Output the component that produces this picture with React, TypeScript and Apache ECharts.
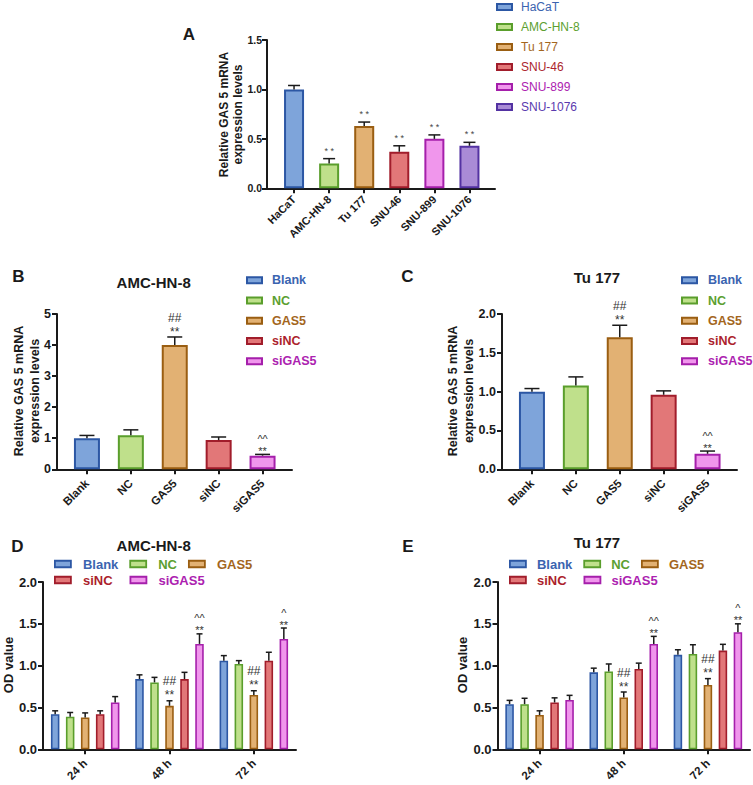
import React, { useEffect, useRef } from 'react';
import * as echarts from 'echarts';

// ---------- data ----------
const A_CATEGORIES = ['HaCaT', 'AMC-HN-8', 'Tu 177', 'SNU-46', 'SNU-899', 'SNU-1076'];
const A_VALUES = [1.0, 0.25, 0.63, 0.37, 0.5, 0.43];
const A_ERRORS = [0.04, 0.05, 0.04, 0.06, 0.04, 0.035];
const A_STARS = ['', '* *', '* *', '* *', '* *', '* *'];

const GROUPS = ['Blank', 'NC', 'GAS5', 'siNC', 'siGAS5'];
const B_VALUES = [1.0, 1.1, 4.0, 0.94, 0.44];
const B_ERRORS = [0.09, 0.17, 0.26, 0.1, 0.04];
const C_VALUES = [1.0, 1.08, 1.7, 0.96, 0.2];
const C_ERRORS = [0.04, 0.11, 0.155, 0.05, 0.035];
const BC_STARS = ['', '', '**', '', '**'];
const BC_TOPS = ['', '', '##', '', '^^'];

const TIMES = ['24 h', '48 h', '72 h'];
const D_BLANK = [0.42, 0.84, 1.06];
const D_NC = [0.39, 0.8, 1.02];
const D_GAS5 = [0.38, 0.52, 0.65];
const D_SINC = [0.42, 0.84, 1.06];
const D_SIGAS5 = [0.56, 1.26, 1.32];
const D_BLANK_ERR = [0.04, 0.05, 0.06];
const D_NC_ERR = [0.05, 0.06, 0.04];
const D_GAS5_ERR = [0.055, 0.06, 0.05];
const D_SINC_ERR = [0.04, 0.08, 0.1];
const D_SIGAS5_ERR = [0.07, 0.12, 0.13];

const E_BLANK = [0.54, 0.92, 1.13];
const E_NC = [0.54, 0.93, 1.14];
const E_GAS5 = [0.41, 0.62, 0.77];
const E_SINC = [0.56, 0.96, 1.18];
const E_SIGAS5 = [0.59, 1.26, 1.4];
const E_BLANK_ERR = [0.045, 0.05, 0.06];
const E_NC_ERR = [0.07, 0.09, 0.11];
const E_GAS5_ERR = [0.05, 0.065, 0.075];
const E_SINC_ERR = [0.055, 0.07, 0.075];
const E_SIGAS5_ERR = [0.055, 0.09, 0.1];

const DE_STARS = [['', '', ''], ['', '', ''], ['', '**', '**'], ['', '', ''], ['', '**', '**']];
const DE_TOPS = [['', '', ''], ['', '', ''], ['', '##', '##'], ['', '', ''], ['', '^^', '^']];

// ---------- styles ----------
const A_FILL = ['#7EA4DA', '#BFE08B', '#E2B173', '#E27778', '#F096EC', '#A98BD6'];
const A_BORDER = ['#2C57A4', '#5A9E2C', '#9A5E12', '#A11D2B', '#A51FAB', '#5332A2'];
const A_TEXT = ['#3B64B0', '#5CA030', '#A3661D', '#AC1F2D', '#AC22B0', '#5A3AAE'];
const G_FILL = A_FILL.slice(0, 5);
const G_BORDER = A_BORDER.slice(0, 5);
const G_TEXT = A_TEXT.slice(0, 5);

const INK = '#1a1a1a';
const FONT = 'Liberation Sans';

function txt(x: number, y: number, text: string, fontSize: number, fill: string, lineHeight?: number) {
  return {
    type: 'text',
    x,
    y,
    style: {
      text,
      align: 'center',
      verticalAlign: 'middle',
      fontSize,
      fontFamily: FONT,
      fill,
      lineHeight: lineHeight || fontSize * 1.2,
    },
  };
}

function makeErr(offset: number, capW: number, stars: string[], tops: string[] | null, fontSize: number, lw: number, starFill: string) {
  return (params: any, api: any) => {
    const i = params.dataIndex;
    const c = api.value(0);
    const v = api.value(1);
    const e = api.value(2);
    const p0 = api.coord([c, v]);
    const p1 = api.coord([c, v + e]);
    const x = p0[0] + offset;
    const yb = p0[1];
    const yt = p1[1];
    const children: any[] = [
      { type: 'line', shape: { x1: x, y1: yb, x2: x, y2: yt }, style: { stroke: INK, lineWidth: lw } },
      { type: 'line', shape: { x1: x - capW / 2, y1: yt, x2: x + capW / 2, y2: yt }, style: { stroke: INK, lineWidth: lw } },
    ];
    const s = stars[i] || '';
    const t = tops ? tops[i] || '' : '';
    const caret = t.indexOf('^') >= 0;
    if (s && !t) {
      children.push(txt(x, yt - 10 + 0.23 * fontSize, s, fontSize, starFill));
    } else if (s && t) {
      const fs = caret ? fontSize - 1 : fontSize;
      const starMid = yt - (caret ? 6 : 8.2) + 0.23 * fs;
      const lh = caret ? fs + 1 : 14;
      children.push(txt(x, starMid - lh / 2, t + '\n' + s, fs, starFill, lh));
    }
    return { type: 'group', children };
  };
}

function catAxis(gridIndex: number, data: string[], fontSize: number, showLine: boolean, margin: number) {
  return {
    type: 'category',
    gridIndex,
    data,
    axisLine: { show: showLine, onZero: false, lineStyle: { color: INK, width: 2 } },
    axisTick: { show: true, alignWithLabel: true, interval: 0, length: 5, lineStyle: { color: INK, width: 2 } },
    axisLabel: { interval: 0, rotate: 45, margin, color: INK, fontWeight: 'bold', fontSize, fontFamily: FONT },
    splitLine: { show: false },
  };
}

function valAxis(gridIndex: number, max: number, interval: number, digits: number, fontSize: number, offset: number, margin: number) {
  return {
    type: 'value',
    gridIndex,
    min: 0,
    max,
    interval,
    offset,
    axisLine: { show: true, lineStyle: { color: INK, width: 2 } },
    axisTick: { show: true, length: 5, lineStyle: { color: INK, width: 2 } },
    axisLabel: {
      margin,
      color: INK,
      fontWeight: 'bold',
      fontSize,
      fontFamily: FONT,
      formatter: (v: number) => v.toFixed(digits),
    },
    splitLine: { show: false },
  };
}

function frameX(gridIndex: number) {
  return {
    type: 'value',
    gridIndex,
    min: 0,
    max: 1,
    axisLine: { show: true, onZero: false, lineStyle: { color: INK, width: 2 } },
    axisTick: { show: false },
    axisLabel: { show: false },
    splitLine: { show: false },
  };
}
function frameY(gridIndex: number) {
  return { type: 'value', gridIndex, min: 0, max: 1, show: false };
}

function legend(left: number, top: number, names: string[], colors: string[], opts: any) {
  return {
    orient: opts.orient || 'vertical',
    left,
    top,
    padding: 0,
    icon: 'rect',
    selectedMode: false,
    itemWidth: opts.iw,
    itemHeight: opts.ih,
    itemGap: opts.gap,
    itemStyle: { borderWidth: opts.bw },
    textStyle: {
      fontSize: opts.fs,
      fontWeight: opts.fw,
      fontFamily: FONT,
      lineHeight: opts.lh,
      padding: [0, 0, 0, opts.pad],
    },
    data: names.map((n, i) => ({ name: n, textStyle: { color: colors[i] } })),
  };
}

function gtext(x: number, y: number, text: string, fontSize: number, rotation = 0, lineHeight?: number) {
  return {
    type: 'text',
    x,
    y,
    rotation,
    style: {
      text,
      align: 'center',
      verticalAlign: 'middle',
      fontSize,
      fontWeight: 'bold',
      fontFamily: FONT,
      fill: INK,
      lineHeight: lineHeight || fontSize * 1.2,
    },
  };
}

function buildOption() {
  const grids = [
    { left: 276.5, top: 40, width: 210.5, height: 148.3 }, // 0 A
    { left: 267, top: 40, width: 228, height: 148.3 }, // 1 A frame
    { left: 65, top: 314, width: 219.5, height: 155.3 }, // 2 B
    { left: 57, top: 314, width: 235, height: 155.3 }, // 3 B frame
    { left: 510, top: 314, width: 219.5, height: 155.3 }, // 4 C
    { left: 502, top: 314, width: 235, height: 155.3 }, // 5 C frame
    { left: 43, top: 582, width: 253, height: 167.3 }, // 6 D
    { left: 497.5, top: 582, width: 252.5, height: 167.3 }, // 7 E
  ];

  const xAxis = [
    catAxis(0, A_CATEGORIES, 11, false, 9),
    frameX(1),
    catAxis(2, GROUPS, 11.5, false, 12),
    frameX(3),
    catAxis(4, GROUPS, 11.5, false, 12),
    frameX(5),
    catAxis(6, TIMES, 11.5, true, 12),
    catAxis(7, TIMES, 11.5, true, 12),
  ];
  const yAxis = [
    valAxis(0, 1.5, 0.5, 1, 10.5, 9.5, 5),
    frameY(1),
    valAxis(2, 5, 1, 0, 12.5, 8, 6),
    frameY(3),
    valAxis(4, 2, 0.5, 1, 12.5, 8, 6),
    frameY(5),
    valAxis(6, 2, 0.5, 1, 13, 0, 6),
    valAxis(7, 2, 0.5, 1, 13, 0, 6),
  ];

  const series: any[] = [];

  // Panel A
  A_CATEGORIES.forEach((name, i) => {
    series.push({
      type: 'bar',
      name,
      xAxisIndex: 0,
      yAxisIndex: 0,
      data: A_VALUES.map((v, j) => (j === i ? v : '-')),
      barWidth: 20,
      barGap: '-100%',
      itemStyle: { color: A_FILL[i], borderColor: A_BORDER[i], borderWidth: 2 },
    });
  });
  series.push({
    type: 'custom',
    xAxisIndex: 0,
    yAxisIndex: 0,
    z: 10,
    silent: true,
    encode: { x: 0, y: 1 },
    data: A_VALUES.map((v, i) => [i, v, A_ERRORS[i]]),
    renderItem: makeErr(0, 12, A_STARS, null, 9, 1.5, '#444'),
  });

  // Panels B and C
  const bc: [number, number[], number[]][] = [
    [2, B_VALUES, B_ERRORS],
    [4, C_VALUES, C_ERRORS],
  ];
  bc.forEach(([ax, vals, errs]) => {
    GROUPS.forEach((name, i) => {
      series.push({
        type: 'bar',
        name,
        xAxisIndex: ax,
        yAxisIndex: ax,
        data: vals.map((v, j) => (j === i ? v : '-')),
        barWidth: 26,
        barGap: '-100%',
        itemStyle: { color: G_FILL[i], borderColor: G_BORDER[i], borderWidth: 2 },
      });
    });
    series.push({
      type: 'custom',
      xAxisIndex: ax,
      yAxisIndex: ax,
      z: 10,
      silent: true,
      encode: { x: 0, y: 1 },
      data: vals.map((v, i) => [i, v, errs[i]]),
      renderItem: makeErr(0, 15, BC_STARS, BC_TOPS, 12, 1.5, '#333'),
    });
  });

  // Panels D and E
  const BAR_W = 8.5;
  const SPACING = 15;
  const de: [number, number[][], number[][]][] = [
    [6, [D_BLANK, D_NC, D_GAS5, D_SINC, D_SIGAS5], [D_BLANK_ERR, D_NC_ERR, D_GAS5_ERR, D_SINC_ERR, D_SIGAS5_ERR]],
    [7, [E_BLANK, E_NC, E_GAS5, E_SINC, E_SIGAS5], [E_BLANK_ERR, E_NC_ERR, E_GAS5_ERR, E_SINC_ERR, E_SIGAS5_ERR]],
  ];
  de.forEach(([ax, vals, errs]) => {
    GROUPS.forEach((name, i) => {
      series.push({
        type: 'bar',
        name,
        xAxisIndex: ax,
        yAxisIndex: ax,
        data: vals[i],
        barWidth: BAR_W,
        barGap: `${((SPACING - BAR_W) / BAR_W) * 100}%`,
        itemStyle: { color: G_FILL[i], borderColor: G_BORDER[i], borderWidth: 1.6 },
      });
    });
    GROUPS.forEach((_, i) => {
      series.push({
        type: 'custom',
        xAxisIndex: ax,
        yAxisIndex: ax,
        z: 10,
        silent: true,
        encode: { x: 0, y: 1 },
        data: vals[i].map((v, j) => [j, v, errs[i][j]]),
        renderItem: makeErr((i - 2) * SPACING, 6, DE_STARS[i], DE_TOPS[i], 12, 1.5, '#333'),
      });
    });
  });

  const legends = [
    legend(496, 0, A_CATEGORIES, A_TEXT, { iw: 15, ih: 6, gap: 6, bw: 2, fs: 12, fw: 'normal', lh: 14, pad: 4 }),
    legend(246, 273.3, GROUPS, G_TEXT, { iw: 15, ih: 6, gap: 6.25, bw: 2, fs: 12.5, fw: 'bold', lh: 14, pad: 5 }),
    legend(681, 273.3, GROUPS, G_TEXT, { iw: 15, ih: 6, gap: 6.25, bw: 2, fs: 12.5, fw: 'bold', lh: 14, pad: 6 }),
    legend(54, 556.5, GROUPS.slice(0, 3), G_TEXT.slice(0, 3), { orient: 'horizontal', iw: 16, ih: 6.5, gap: 11, bw: 1.8, fs: 13, fw: 'bold', lh: 15, pad: 7 }),
    legend(54, 572.5, GROUPS.slice(3), G_TEXT.slice(3), { orient: 'horizontal', iw: 16, ih: 6.5, gap: 17, bw: 1.8, fs: 13, fw: 'bold', lh: 15, pad: 7 }),
    legend(509, 556.5, GROUPS.slice(0, 3), G_TEXT.slice(0, 3), { orient: 'horizontal', iw: 16, ih: 6.5, gap: 11, bw: 1.8, fs: 13, fw: 'bold', lh: 15, pad: 6 }),
    legend(509, 572.5, GROUPS.slice(3), G_TEXT.slice(3), { orient: 'horizontal', iw: 16, ih: 6.5, gap: 17, bw: 1.8, fs: 13, fw: 'bold', lh: 15, pad: 6 }),
  ];

  const Y_TITLE = 'Relative GAS 5 mRNA\nexpression levels';
  const graphic = [
    gtext(189, 34, 'A', 17),
    gtext(18.3, 276.7, 'B', 17),
    gtext(407.5, 276.7, 'C', 17),
    gtext(17.5, 546, 'D', 17),
    gtext(408, 546, 'E', 17),
    gtext(153.7, 282.5, 'AMC-HN-8', 15),
    gtext(597, 277, 'Tu 177', 15),
    gtext(153.7, 545, 'AMC-HN-8', 15),
    gtext(597, 542, 'Tu 177', 15),
    gtext(231, 114.5, Y_TITLE, 12, Math.PI / 2, 14),
    gtext(26.5, 391, Y_TITLE, 12.5, Math.PI / 2, 16),
    gtext(461, 391, Y_TITLE, 12.5, Math.PI / 2, 16),
    gtext(8.5, 665, 'OD value', 13, Math.PI / 2),
    gtext(462, 665, 'OD value', 13, Math.PI / 2),
  ];

  return {
    animation: false,
    backgroundColor: '#ffffff',
    textStyle: { fontFamily: FONT },
    grid: grids,
    xAxis,
    yAxis,
    legend: legends,
    series,
    graphic,
  };
}

export default function App() {
  const ref = useRef<HTMLDivElement>(null);
  useEffect(() => {
    if (!ref.current) return;
    const chart = echarts.init(ref.current, undefined, { renderer: 'svg' });
    chart.setOption(buildOption() as any);
    return () => chart.dispose();
  }, []);
  return (
    <div
      ref={ref}
      style={{ position: 'absolute', left: 0, top: 0, width: 753, height: 785, background: '#fff' }}
    />
  );
}
